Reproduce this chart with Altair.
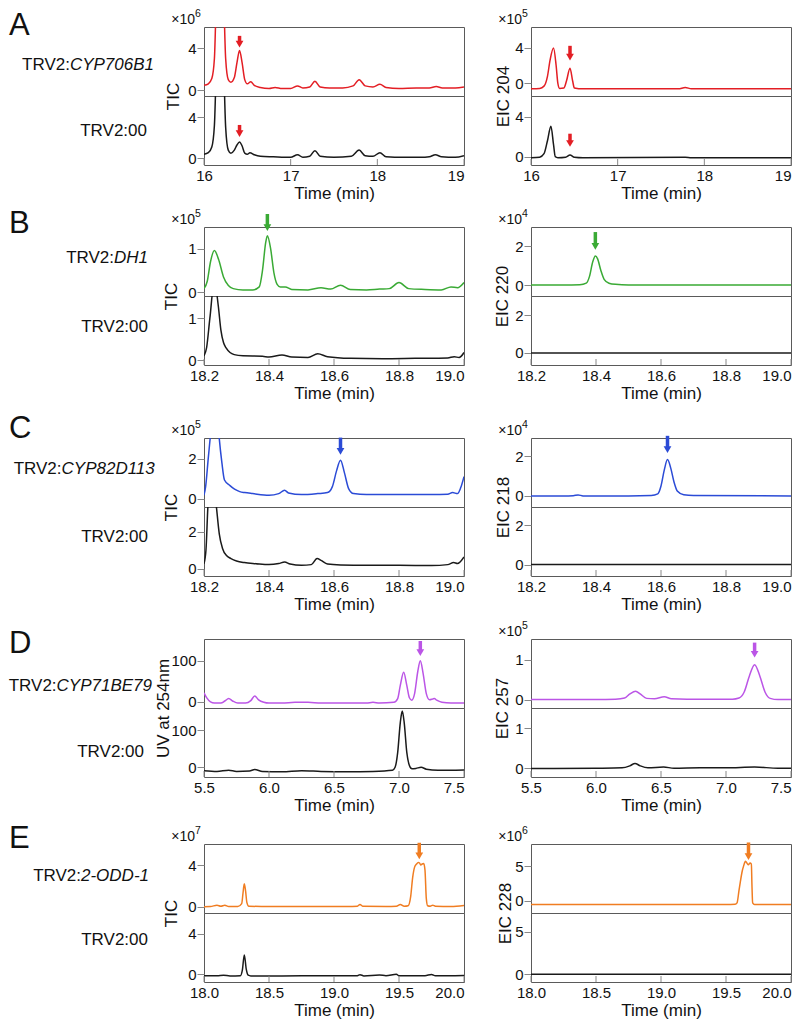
import altair as alt
import pandas as pd

FONT = "Liberation Sans"
W = 260
H = 69
FRAME = "#5a5a5a"
INK = "#111111"

# ---------------- Row A : TRV2:CYP706B1 ----------------
A_X_DOMAIN = [16, 19]
A_X_TICKS = [16, 17, 18, 19]
A_L_TOP_T = [16.00, 16.05, 16.09, 16.12, 16.15, 16.19, 16.22, 16.25, 16.28, 16.31, 16.35, 16.38, 16.41, 16.44,
             16.47, 16.50, 16.54, 16.58, 16.65, 16.75, 16.82, 16.90, 17.00, 17.08, 17.14, 17.22, 17.28, 17.34,
             17.45, 17.60, 17.72, 17.79, 17.86, 17.95, 18.03, 18.10, 18.25, 18.45, 18.60, 18.68, 18.75, 18.90, 19.00]
A_L_TOP_V = [0.45, 0.6, 1.1, 3.0, 12, 22, 12, 3.0, 1.0, 0.75, 1.2, 2.6, 3.8, 2.6,
             1.0, 0.6, 0.8, 0.45, 0.25, 0.15, 0.25, 0.15, 0.15, 0.4, 0.2, 0.3, 0.85, 0.3,
             0.2, 0.2, 0.4, 1.0, 0.4, 0.3, 0.55, 0.25, 0.15, 0.2, 0.2, 0.35, 0.2, 0.2, 0.3]
A_L_BOT_T = [16.00, 16.05, 16.09, 16.12, 16.15, 16.19, 16.22, 16.25, 16.28, 16.31, 16.35, 16.38, 16.41, 16.44,
             16.47, 16.50, 16.53, 16.58, 16.65, 16.80, 17.00, 17.08, 17.14, 17.22, 17.28, 17.34, 17.50, 17.70,
             17.79, 17.86, 17.95, 18.03, 18.10, 18.30, 18.50, 18.60, 18.67, 18.74, 18.90, 19.00]
A_L_BOT_V = [0.4, 0.55, 1.1, 3.2, 12, 22, 12, 3.0, 0.8, 0.5, 0.8, 1.3, 1.6, 1.2,
             0.5, 0.4, 0.55, 0.35, 0.2, 0.15, 0.1, 0.35, 0.1, 0.2, 0.75, 0.2, 0.1, 0.2,
             0.8, 0.25, 0.2, 0.55, 0.15, 0.1, 0.1, 0.15, 0.35, 0.15, 0.1, 0.25]
A_R_TOP_T = [16.00, 16.10, 16.15, 16.19, 16.22, 16.26, 16.29, 16.31, 16.33, 16.38, 16.41, 16.45, 16.48, 16.50,
             16.60, 17.00, 17.70, 17.78, 17.85, 19.00]
A_R_TOP_V = [-0.6, -0.55, -0.3, 0.8, 2.6, 3.95, 2.0, 0.0, -0.55, -0.5, 0.3, 1.7, 0.3, -0.5,
             -0.6, -0.6, -0.6, -0.45, -0.6, -0.6]
A_R_BOT_T = [16.00, 16.10, 16.15, 16.19, 16.23, 16.26, 16.28, 16.31, 16.40, 16.45, 16.50, 16.60, 17.78, 17.85, 19.00]
A_R_BOT_V = [-0.1, -0.05, 0.3, 1.6, 3.05, 1.2, 0.0, -0.1, -0.05, 0.17, -0.05, -0.1, -0.05, -0.1, -0.1]

# ---------------- Row B : TRV2:DH1 ----------------
B_X_DOMAIN = [18.2, 19.0]
B_X_TICKS = [18.2, 18.4, 18.6, 18.8, 19.0]
B_L_TOP_T = [18.200, 18.210, 18.220, 18.232, 18.245, 18.260, 18.275, 18.290, 18.320, 18.350, 18.370, 18.380,
             18.390, 18.395, 18.405, 18.415, 18.425, 18.435, 18.450, 18.47, 18.52, 18.56, 18.59, 18.62, 18.65,
             18.70, 18.74, 18.77, 18.80, 18.83, 18.88, 18.93, 18.96, 18.98, 19.00]
B_L_TOP_V = [0.08, 0.25, 0.70, 0.96, 0.75, 0.35, 0.15, 0.08, 0.05, 0.05, 0.12, 0.5,
             1.15, 1.30, 1.0, 0.45, 0.18, 0.12, 0.12, 0.06, 0.05, 0.1, 0.07, 0.16, 0.06,
             0.05, 0.07, 0.08, 0.22, 0.08, 0.06, 0.05, 0.12, 0.1, 0.22]
B_L_BOT_T = [18.200, 18.208, 18.218, 18.232, 18.244, 18.252, 18.260, 18.268, 18.280, 18.293, 18.32, 18.38,
             18.40, 18.44, 18.47, 18.52, 18.55, 18.58, 18.65, 18.75, 18.85, 18.95, 18.97, 18.985, 19.00]
B_L_BOT_V = [0.1, 0.3, 1.0, 1.9, 1.3, 0.72, 0.42, 0.29, 0.18, 0.13, 0.1, 0.09,
             0.07, 0.12, 0.07, 0.06, 0.15, 0.08, 0.04, 0.03, 0.04, 0.05, 0.08, 0.06, 0.18]
B_R_TOP_T = [18.20, 18.30, 18.35, 18.37, 18.38, 18.39, 18.398, 18.405, 18.415, 18.425, 18.44, 18.46, 18.50, 19.00]
B_R_TOP_V = [0.0, 0.0, 0.02, 0.1, 0.45, 1.2, 1.5, 1.35, 0.75, 0.3, 0.1, 0.04, 0.01, 0.0]
B_R_BOT_T = [18.2, 18.4, 18.6, 18.8, 19.0]
B_R_BOT_V = [0.0, 0.0, 0.0, 0.0, 0.0]

# ---------------- Row C : TRV2:CYP82D113 ----------------
C_X_DOMAIN = [18.2, 19.0]
C_X_TICKS = [18.2, 18.4, 18.6, 18.8, 19.0]
C_L_TOP_T = [18.200, 18.205, 18.213, 18.220, 18.234, 18.247, 18.255, 18.263, 18.28, 18.294, 18.31, 18.325,
             18.35, 18.40, 18.43, 18.448, 18.46, 18.50, 18.55, 18.58, 18.595, 18.608, 18.620, 18.632, 18.645,
             18.66, 18.70, 18.80, 18.90, 18.95, 18.965, 18.98, 18.99, 19.00]
C_L_TOP_V = [0.17, 0.6, 2.0, 3.2, 6.0, 3.0, 1.8, 0.93, 0.65, 0.47, 0.35, 0.3,
             0.25, 0.17, 0.25, 0.42, 0.28, 0.2, 0.25, 0.3, 0.6, 1.4, 1.92, 1.3, 0.5,
             0.25, 0.2, 0.2, 0.2, 0.22, 0.3, 0.25, 0.55, 1.1]
C_L_BOT_T = [18.200, 18.206, 18.212, 18.225, 18.238, 18.247, 18.257, 18.27, 18.283, 18.30, 18.324, 18.36,
             18.40, 18.43, 18.448, 18.465, 18.50, 18.53, 18.548, 18.56, 18.58, 18.62, 18.70, 18.80, 18.90,
             18.95, 18.968, 18.98, 19.00]
C_L_BOT_V = [0.27, 1.0, 3.4, 5.5, 3.4, 1.9, 1.1, 0.7, 0.55, 0.42, 0.33, 0.27,
             0.22, 0.28, 0.36, 0.25, 0.18, 0.22, 0.55, 0.45, 0.25, 0.2, 0.18, 0.18, 0.17,
             0.22, 0.33, 0.28, 0.64]
C_R_TOP_T = [18.20, 18.30, 18.33, 18.345, 18.36, 18.50, 18.57, 18.59, 18.60, 18.61, 18.62, 18.63, 18.64,
             18.65, 18.67, 18.70, 19.00]
C_R_TOP_V = [0.0, 0.0, 0.01, 0.05, 0.0, 0.0, 0.02, 0.1, 0.5, 1.3, 1.83, 1.4, 0.7,
             0.25, 0.06, 0.02, 0.0]
C_R_BOT_T = [18.2, 18.4, 18.6, 18.8, 19.0]
C_R_BOT_V = [0.0, 0.0, 0.0, 0.0, 0.0]

# ---------------- Row D : TRV2:CYP71BE79 ----------------
D_X_DOMAIN = [5.5, 7.5]
D_X_TICKS = [5.5, 6.0, 6.5, 7.0, 7.5]
D_L_TOP_T = [5.50, 5.52, 5.55, 5.58, 5.63, 5.66, 5.69, 5.72, 5.76, 5.82, 5.86, 5.89, 5.92, 5.96, 6.00,
             6.10, 6.20, 6.30, 6.40, 6.60, 6.75, 6.80, 6.85, 6.96, 6.99, 7.01, 7.036, 7.06, 7.08, 7.098,
             7.12, 7.145, 7.164, 7.185, 7.21, 7.235, 7.26, 7.272, 7.29, 7.33, 7.40, 7.50]
D_L_TOP_V = [22, 10, 0, -3, -3, 2, 8, 2, -3, -3, 3, 14, 5, -1, -3,
             -3, -1, -1, -3, -3, -3, -1, -3, -1, 8, 40, 72, 40, 10, 4,
             20, 75, 100, 70, 20, 5, 7, 8, 4, -1, -3, -3]
D_L_BOT_T = [5.50, 5.60, 5.69, 5.75, 5.85, 5.89, 5.95, 6.10, 6.25, 6.40, 6.60, 6.80, 6.95, 6.97, 6.99,
             7.01, 7.025, 7.04, 7.06, 7.08, 7.10, 7.13, 7.17, 7.21, 7.30, 7.50]
D_L_BOT_V = [-9, -11, -8, -11, -10, -6, -11, -12, -9, -11, -12, -11, -8, 0, 40,
             120, 151, 120, 40, 5, -4, -3, 0, -5, -8, -7]
D_R_TOP_T = [5.50, 6.00, 6.15, 6.22, 6.26, 6.305, 6.34, 6.39, 6.45, 6.525, 6.58, 6.70, 6.90, 7.05, 7.10,
             7.14, 7.18, 7.22, 7.26, 7.30, 7.34, 7.40, 7.50]
D_R_TOP_V = [0.01, 0.01, 0.02, 0.05, 0.15, 0.22, 0.15, 0.04, 0.03, 0.08, 0.03, 0.02, 0.02, 0.02, 0.05,
             0.2, 0.6, 0.88, 0.6, 0.2, 0.04, 0.01, 0.01]
D_R_BOT_T = [5.50, 6.00, 6.20, 6.26, 6.30, 6.34, 6.40, 6.52, 6.60, 6.80, 7.00, 7.22, 7.40, 7.50]
D_R_BOT_V = [-0.01, 0.0, 0.01, 0.06, 0.12, 0.06, 0.01, 0.03, 0.0, 0.01, 0.01, 0.03, 0.0, 0.0]

# ---------------- Row E : TRV2:2-ODD-1 ----------------
E_X_DOMAIN = [18.0, 20.0]
E_X_TICKS = [18.0, 18.5, 19.0, 19.5, 20.0]
E_L_TOP_T = [18.00, 18.05, 18.10, 18.13, 18.16, 18.19, 18.26, 18.29, 18.30, 18.31, 18.32, 18.33, 18.345,
             18.50, 18.80, 19.10, 19.18, 19.20, 19.22, 19.40, 19.48, 19.51, 19.54, 19.57, 19.59, 19.605,
             19.62, 19.635, 19.648, 19.658, 19.668, 19.678, 19.69, 19.70, 19.71, 19.72, 19.74, 19.76,
             19.78, 19.90, 20.00]
E_L_TOP_V = [0.0, 0.02, 0.15, 0.05, 0.15, 0.02, 0.02, 0.3, 1.3, 2.2, 1.5, 0.4, 0.05,
             0.02, 0.02, 0.02, 0.05, 0.22, 0.05, 0.03, 0.05, 0.22, 0.05, 0.1, 1.0, 2.8,
             3.8, 4.1, 4.25, 4.2, 4.0, 4.1, 4.15, 3.5, 0.8, 0.1, 0.05, 0.15,
             0.05, 0.03, 0.12]
E_L_BOT_T = [18.00, 18.10, 18.15, 18.20, 18.28, 18.295, 18.31, 18.325, 18.34, 18.36, 18.60, 18.90, 19.18,
             19.20, 19.23, 19.35, 19.40, 19.48, 19.50, 19.70, 19.75, 19.78, 20.00]
E_L_BOT_V = [-0.15, -0.15, -0.1, -0.17, -0.15, 0.4, 1.9, 0.5, -0.1, -0.17, -0.17, -0.15, -0.15,
             -0.05, -0.17, -0.08, -0.15, 0.0, -0.15, -0.15, -0.02, -0.15, -0.12]
E_R_TOP_T = [18.00, 19.50, 19.57, 19.585, 19.60, 19.61, 19.625, 19.635, 19.65, 19.662, 19.672, 19.685,
             19.695, 19.70, 19.705, 19.72, 20.00]
E_R_TOP_V = [-0.55, -0.55, -0.5, -0.3, 1.5, 2.7, 4.3, 5.0, 5.7, 5.4, 5.2, 5.45,
             5.3, 2.0, -0.3, -0.55, -0.55]
E_R_BOT_T = [18.0, 18.5, 19.0, 19.5, 20.0]
E_R_BOT_V = [0.0, 0.0, 0.0, 0.0, 0.0]

# arrows: (time, top value, tip value)
A_L_TOP_ARROW = [16.41, 5.2, 4.1]
A_L_BOT_ARROW = [16.41, 3.25, 2.1]
A_R_TOP_ARROW = [16.45, 4.2, 2.57]
A_R_BOT_ARROW = [16.45, 2.3, 1.0]
B_L_TOP_ARROW = [18.395, 1.8, 1.41]
B_R_TOP_ARROW = [18.398, 2.73, 1.83]
C_L_TOP_ARROW = [18.62, 3.05, 2.2]
C_R_TOP_ARROW = [18.62, 3.03, 2.17]
D_L_TOP_ARROW = [7.164, 148, 112]
D_R_TOP_ARROW = [7.22, 1.43, 1.06]
E_L_TOP_ARROW = [19.656, 6.14, 4.57]
E_R_TOP_ARROW = [19.673, 8.42, 5.91]

# colours
RED, GREEN, BLUE, PURPLE, ORANGE, BLACK = "#E31E24", "#3AAA35", "#2B4BD6", "#BB55E6", "#F07D22", "#1A1A1A"

# text labels
ROW_LETTERS = ["A", "B", "C", "D", "E"]
ROW_GENES = ["CYP706B1", "DH1", "CYP82D113", "CYP71BE79", "2-ODD-1"]
LEFT_TITLES = ["TIC", "TIC", "TIC", "UV at 254nm", "TIC"]
RIGHT_TITLES = ["EIC 204", "EIC 220", "EIC 218", "EIC 257", "EIC 228"]
LEFT_EXP = ["6", "5", "5", "", "7"]
RIGHT_EXP = ["5", "4", "4", "5", "6"]

# layout helpers (pixel placement of annotations)
LETTER_Y = [-16, -18, -24, -10, -20]
LABEL_TOP_RIGHT = [-50, -56, -48, -52, -55]
LABEL_BOT_RIGHT = [-57, -56, -56, -60, -56]
LABEL_TOP_Y = [38, 31, 31, 47, 32]
LABEL_BOT_Y = [35, 31, 30, 44, 27]
TITLE_X_L = [-26, -28, -28, -36, -28]
TITLE_X_R = [-23, -24, -23, -24, -21]
GAPS = [62, 73, 63, 67]

AW = {'T': 0.611, 'R': 0.722, 'V': 0.667, ':': 0.278, 'C': 0.722, 'Y': 0.667, 'P': 0.667, 'B': 0.667,
      'D': 0.722, 'H': 0.722, 'E': 0.667, 'O': 0.778, '-': 0.333}
LABEL_FS = 17


def tw(s, fs):
    return sum(AW.get(c, 0.556) for c in s) * fs


def one():
    return pd.DataFrame({"d": [0]})


def text_layer(txt, x, y, fs, align="left", baseline="alphabetic", style="normal"):
    return alt.Chart(one()).mark_text(text=txt, font=FONT, fontSize=fs, align=align, baseline=baseline,
                                      fontStyle=style, color=INK).encode(x=alt.value(x), y=alt.value(y))


def subplot(t, v, color, xdom, xticks, xfmt, ydom, yticks, bottom, ytitle="", title_x=0,
            arrow=None, arrow_color=RED, exp="", extra=()):
    df = pd.DataFrame({"t": t, "v": v})
    xs = alt.Scale(domain=xdom, nice=False, zero=False)
    ys = alt.Scale(domain=ydom, nice=False, zero=False)
    if bottom:
        last_align = {"condition": {"test": f"datum.value >= {xdom[1] - 1e-6}", "value": "right"},
                      "value": "center"}
        xax = alt.Axis(values=xticks, format=xfmt, title="Time (min)", ticks=False, tickSize=0, domain=False,
                       grid=False, labelFlush=False, labelAlign=last_align, labelPadding=3, titlePadding=2,
                       labelFontSize=15, titleFontSize=17, titleFontWeight="normal")
    else:
        xax = None
    common = dict(values=yticks, format="d", tickSize=7, tickColor="#888888", labelPadding=1, domain=False,
                  grid=False, labelFontSize=15)
    if ytitle:
        yax = alt.Axis(title=ytitle, titleX=title_x, titleY=H, titleBaseline="alphabetic", titleAngle=270,
                       titleFontSize=17, titleFontWeight="normal", **common)
    else:
        yax = alt.Axis(title="", **common)
    X = alt.X("t:Q", scale=xs, axis=xax)
    Y = alt.Y("v:Q", scale=ys, axis=yax)
    layers = [alt.Chart(df).mark_line(color=color, strokeWidth=1.5, clip=True, interpolate="monotone")
              .encode(x=X, y=Y)]
    if bottom:
        tdf = pd.DataFrame({"t": xticks})
        layers.append(alt.Chart(tdf).mark_rule(color="#888888", strokeWidth=1)
                      .encode(x=X, y=alt.value(H), y2=alt.value(H - 6)))
    if arrow:
        adf = pd.DataFrame({"t": [arrow[0]], "v": [arrow[1]], "v2": [arrow[2]]})
        layers.append(alt.Chart(adf).mark_rule(color=arrow_color, strokeWidth=3.5, y2Offset=-4, clip=False)
                      .encode(x=X, y=Y, y2="v2:Q"))
        layers.append(alt.Chart(adf).mark_point(shape="triangle-down", filled=True, size=60, color=arrow_color,
                                                opacity=1, yOffset=-3.2, clip=False)
                      .encode(x=X, y=alt.Y("v2:Q", scale=ys, axis=yax)))
    if exp:
        layers.append(text_layer("×10", -9, -3, 14, align="right"))
        layers.append(text_layer(exp, -9, -10, 10.5, align="left"))
    layers.extend(extra)
    return alt.layer(*layers).properties(width=W, height=H)


def row_label(gene, right, y):
    lay = []
    if gene:
        split = right - tw(gene, LABEL_FS)
        lay.append(text_layer("TRV2:", split, y, LABEL_FS, align="right", baseline="middle"))
        lay.append(text_layer(gene, split, y, LABEL_FS, align="left", baseline="middle", style="italic"))
    else:
        lay.append(text_layer("TRV2:00", right, y, LABEL_FS, align="right", baseline="middle"))
    return lay


def spacer(h):
    return (alt.Chart(one()).mark_text(text="", opacity=0).encode(x=alt.value(0), y=alt.value(0))
            .properties(width=W, height=h, view=alt.ViewBackground(strokeOpacity=0)))


ROWS = [
    dict(xdom=A_X_DOMAIN, xt=A_X_TICKS, fmt="d", col=RED,
         lt=(A_L_TOP_T, A_L_TOP_V, [-0.57, 6.05], [0, 4], A_L_TOP_ARROW),
         lb=(A_L_BOT_T, A_L_BOT_V, [-0.65, 6.07], [0, 4], A_L_BOT_ARROW),
         rt=(A_R_TOP_T, A_R_TOP_V, [-1.4, 6.3], [0, 4], A_R_TOP_ARROW),
         rb=(A_R_BOT_T, A_R_BOT_V, [-0.83, 6.07], [0, 4], A_R_BOT_ARROW)),
    dict(xdom=B_X_DOMAIN, xt=B_X_TICKS, fmt=".1f", col=GREEN,
         lt=(B_L_TOP_T, B_L_TOP_V, [-0.09, 1.5], [0, 1], B_L_TOP_ARROW),
         lb=(B_L_BOT_T, B_L_BOT_V, [-0.12, 1.54], [0, 1], None),
         rt=(B_R_TOP_T, B_R_TOP_V, [-0.56, 2.99], [0, 2], B_R_TOP_ARROW),
         rb=(B_R_BOT_T, B_R_BOT_V, [-0.64, 3.01], [0, 2], None)),
    dict(xdom=C_X_DOMAIN, xt=C_X_TICKS, fmt=".1f", col=BLUE,
         lt=(C_L_TOP_T, C_L_TOP_V, [-0.42, 3.03], [0, 2], C_L_TOP_ARROW),
         lb=(C_L_BOT_T, C_L_BOT_V, [-0.4, 3.36], [0, 2], None),
         rt=(C_R_TOP_T, C_R_TOP_V, [-0.56, 2.92], [0, 2], C_R_TOP_ARROW),
         rb=(C_R_BOT_T, C_R_BOT_V, [-0.58, 2.93], [0, 2], None)),
    dict(xdom=D_X_DOMAIN, xt=D_X_TICKS, fmt=".1f", col=PURPLE,
         lt=(D_L_TOP_T, D_L_TOP_V, [-15, 152.8], [0, 100], D_L_TOP_ARROW),
         lb=(D_L_BOT_T, D_L_BOT_V, [-26, 159], [0, 100], None),
         rt=(D_R_TOP_T, D_R_TOP_V, [-0.2, 1.52], [0, 1], D_R_TOP_ARROW),
         rb=(D_R_BOT_T, D_R_BOT_V, [-0.22, 1.51], [0, 1], None)),
    dict(xdom=E_X_DOMAIN, xt=E_X_TICKS, fmt=".1f", col=ORANGE,
         lt=(E_L_TOP_T, E_L_TOP_V, [-0.6, 6.02], [0, 4], E_L_TOP_ARROW),
         lb=(E_L_BOT_T, E_L_BOT_V, [-0.77, 6.03], [0, 4], None),
         rt=(E_R_TOP_T, E_R_TOP_V, [-1.77, 8.2], [0, 5], E_R_TOP_ARROW),
         rb=(E_R_BOT_T, E_R_BOT_V, [-0.92, 7.24], [0, 5], None)),
]

cells = []
for i, r in enumerate(ROWS):
    letter = [text_layer(ROW_LETTERS[i], -195, LETTER_Y[i], 31, align="left", baseline="top")]
    t, v, yd, yt, ar = r["lt"]
    lt = subplot(t, v, r["col"], r["xdom"], r["xt"], r["fmt"], yd, yt, False, LEFT_TITLES[i], TITLE_X_L[i],
                 ar, r["col"], LEFT_EXP[i],
                 extra=letter + row_label(ROW_GENES[i], LABEL_TOP_RIGHT[i], LABEL_TOP_Y[i]))
    t, v, yd, yt, ar = r["rt"]
    rt = subplot(t, v, r["col"], r["xdom"], r["xt"], r["fmt"], yd, yt, False, RIGHT_TITLES[i], TITLE_X_R[i],
                 ar, r["col"], RIGHT_EXP[i])
    t, v, yd, yt, ar = r["lb"]
    lb = subplot(t, v, BLACK, r["xdom"], r["xt"], r["fmt"], yd, yt, True, "", 0, ar, r["col"], "",
                 extra=row_label("", LABEL_BOT_RIGHT[i], LABEL_BOT_Y[i]))
    t, v, yd, yt, ar = r["rb"]
    rb = subplot(t, v, BLACK, r["xdom"], r["xt"], r["fmt"], yd, yt, True, "", 0, ar, r["col"], "")
    cells += [lt, rt, lb, rb]
    if i < len(GAPS):
        cells += [spacer(GAPS[i]), spacer(GAPS[i])]

chart = (alt.concat(*cells, columns=2, spacing={"row": 0, "column": 67}, bounds="flush", align="each")
         .properties(padding=0)
         .configure_view(stroke=FRAME, strokeWidth=1)
         .configure_axis(labelFont=FONT, titleFont=FONT, labelColor=INK, titleColor=INK)
         .configure_text(font=FONT))

chart.save("out.html", embed_options={"renderer": "svg", "actions": False})
